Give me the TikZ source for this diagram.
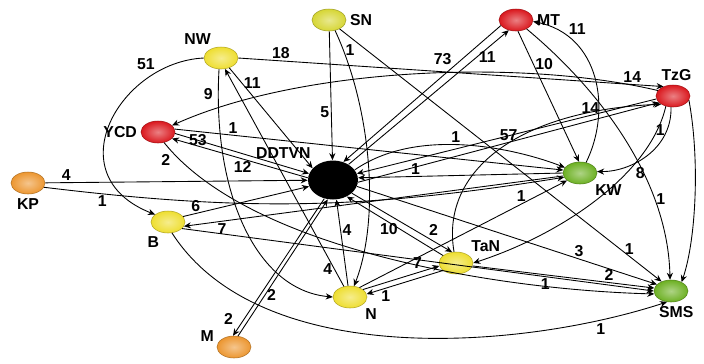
\documentclass[tikz,border=0pt]{standalone}
\usepackage{fontspec}
\setsansfont{Liberation Sans}
\usetikzlibrary{arrows.meta, shapes.geometric}
\definecolor{nodeyel}{RGB}{238,222,48}
\definecolor{snyel}{RGB}{214,214,52}
\definecolor{nodered}{RGB}{218,24,30}
\definecolor{nodeorange}{RGB}{236,150,48}
\definecolor{nodegreen}{RGB}{108,176,34}

\tikzset{
  vert/.style={ellipse, minimum width=0.68cm, minimum height=0.44cm, inner sep=0pt,
    shading=radial, inner color=#1!55!white, outer color=#1, draw=#1!75!black, line width=0.3pt},
  hub/.style={ellipse, fill=black, minimum width=1.0cm, minimum height=0.78cm, inner sep=0pt},
  lbl/.style={font=\sffamily\bfseries\small, inner sep=1pt, label distance=1pt},
  w/.style={font=\sffamily\bfseries\small, inner sep=1pt},
  link/.style={draw, line width=0.5pt, -{Stealth[length=4pt,width=3.5pt]}}
}

\begin{document}
\begin{tikzpicture}[x=0.02cm, y=-0.02cm]
  \useasboundingbox[fill=white] (0,0) rectangle (704,363);

  % actors
  \node[hub, label={[lbl,yshift=3pt]145:DDTVN}] (DDTVN) at (333,180) {};
  \foreach \n/\x/\y/\c/\a in {SN/329/20/snyel/0, NW/221/58/nodeyel/125, MT/516/20/nodered/0,
      YCD/158/132/nodered/180, KP/28/183/nodeorange/-90,
      KW/580/173/nodegreen/-35, B/168/222/nodeyel/-120, TaN/456/263/nodeyel/35,
      N/350/297/nodeyel/-35, M/234/347/nodeorange/168}
    \node[vert=\c, label={[lbl]\a:\n}] (\n) at (\x,\y) {};
  \node[vert=nodered, label={[lbl,xshift=2pt]90:TzG}] (TzG) at (673,96) {};
  \node[vert=nodegreen, label={[lbl,xshift=3pt]-90:SMS}] (SMS) at (671,291) {};

  % ties from the top row
  \draw[link] (SN) -- node[w,pos=0.63,left] {5} (DDTVN);
  \draw[link] (SN.-60) .. controls (372,110) and (380,220) .. node[w,pos=0.08,right] {1} (N.70);
  \draw[link] (SN.-40) -- node[w,pos=0.9,above] {1} (SMS.135);
  \draw[link] (NW.-50) -- node[w,pos=0.15,right] {11} (DDTVN.150);
  \draw[link] (NW.-100) .. controls (212,190) and (255,290) .. node[w,pos=0.07,left=2pt] {9} (N.west);
  \draw[link] (N.120) -- node[w,pos=0.08,left] {4} (NW.-70);
  \draw[link] (NW.east) -- node[w,pos=0.1,above] {18} (TzG.135);
  \draw[link] (NW.west) .. controls (120,62) and (55,175) .. node[w,pos=0.2,above left] {51} (B.150);
  \draw[link] (MT.200) -- node[w,pos=0.3,above left] {73} (DDTVN.60);
  \draw[link] (DDTVN.45) -- node[w,pos=0.8,right] {11} (MT.235);
  \draw[link] (MT.-80) -- node[w,pos=0.25,right] {10} (KW.95);
  \draw[link] (KW.60) .. controls (612,110) and (600,35) .. node[w,pos=0.8,above right] {11} (MT.-5);
  \draw[link] (MT.-40) .. controls (600,90) and (668,180) .. node[w,pos=0.72,right] {1} (SMS.95);

  % TzG
  \draw[link] (TzG.-15) .. controls (700,160) and (696,240) .. (SMS.40);
  \draw[link] (TzG.-100) .. controls (672,150) and (630,172) .. node[w,pos=0.2,left] {1} (KW.5);
  \draw[link] (TzG.190) -- node[w,pos=0.22,above] {14} (DDTVN.15);
  \draw[link] (DDTVN.-5) -- node[w,pos=0.5,above] {57} (TzG.205);
  \draw[link] (TzG.160) .. controls (520,58) and (300,68) .. node[w,pos=0.06,above] {14} (YCD.25);
  \draw[link] (TzG.-125) .. controls (650,175) and (560,235) .. node[w,pos=0.3,below right] {8} (TaN.east);

  % YCD, KP, B
  \draw[link] (YCD.-5) -- node[w,pos=0.17] {53} (DDTVN.165);
  \draw[link] (DDTVN.175) -- node[w,pos=0.48,below] {12} (YCD.-25);
  \draw[link] (YCD.10) -- node[w,pos=0.15,above] {1} (KW.170);
  \draw[link] (YCD.-60) .. controls (250,250) and (500,290) .. node[w,pos=0.03,below left] {2} (SMS.190);
  \draw[link] (KP) -- node[w,pos=0.08,above] {4} (DDTVN);
  \draw[link] (KP.-15) to[bend right=8] node[w,pos=0.1,below] {1} (KW.-165);
  \draw[link] (B.20) -- node[w,pos=0.1,above] {6} (DDTVN.195);
  \draw[link] (KW.190) -- node[w,pos=0.9,below] {7} (B.-15);
  \draw[link] (B.-25) -- node[w,pos=0.77,below] {1} (SMS.180);
  \draw[link] (B.-70) .. controls (260,370) and (520,350) .. node[w,pos=0.85,below right] {1} (SMS.-110);

  % lower part
  \draw[link] (M.70) -- node[w,pos=0.3,right] {2} (DDTVN.-105);
  \draw[link] (DDTVN.-115) -- node[w,pos=0.88,left=5pt] {2} (M.95);
  \draw[link] (N.100) -- node[w,pos=0.65,right] {4} (DDTVN.-80);
  \draw[link] (DDTVN.-35) -- node[w,pos=0.75,above right] {2} (TaN.110);
  \draw[link] (TaN.150) -- node[w,pos=0.45,left] {10} (DDTVN.-50);
  \draw[link] (KW.180) -- node[w,pos=0.72,above] {1} (DDTVN.5);
  \draw[link] (DDTVN.25) .. controls (420,125) and (520,150) .. node[w,pos=0.45,above] {1} (KW.160);
  \draw[link] (DDTVN.-15) -- node[w,pos=0.74,above] {3} (SMS.155);
  \draw[link] (N.30) -- node[w,pos=0.8,above left] {7} (TaN.190);
  \draw[link] (TaN.-150) -- node[w,pos=0.75,below] {1} (N.10);
  \draw[link] (TaN.-10) -- node[w,pos=0.75,above] {2} (SMS.170);
  \draw[link] (TaN.100) .. controls (440,170) and (520,110) .. (TzG.215);
  \draw[link] (N.45) -- node[w,pos=0.78,above] {1} (KW.-150);
\end{tikzpicture}
\end{document}
